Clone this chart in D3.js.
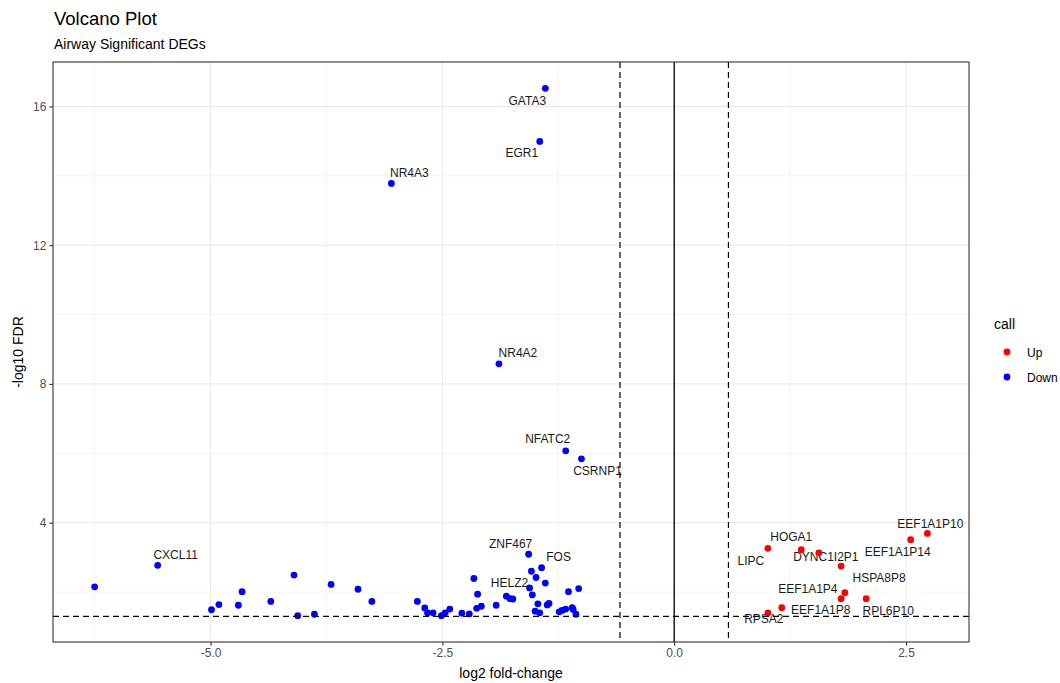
<!DOCTYPE html>
<html>
<head>
<meta charset="utf-8">
<script src="https://cdn.jsdelivr.net/npm/d3@7"></script>
<style>
  body { margin: 0; background: #fff; }
  svg { display: block; }
  text { font-family: "Liberation Sans", Arial, Helvetica, sans-serif; }
</style>
</head>
<body>
<svg id="chart" width="1060" height="683"></svg>
<script>
// ---- Data: significant DEGs (log2 fold-change vs -log10 FDR) ----
// Up-regulated genes ("" = not labelled)
const upGene = ["EEF1A1P10", "EEF1A1P14", "LIPC", "HOGA1", "DYNC1I2P1", "HSPA8P8",
                "EEF1A1P4", "RPL6P10", "EEF1A1P8", "RPSA2", ""];
const upLog2FC = [2.73, 2.55, 1.01, 1.37, 1.56, 1.80, 1.84, 2.07, 1.16, 1.01, 1.80];
const upNegLog10FDR = [3.69, 3.51, 3.26, 3.22, 3.13, 2.75, 1.98, 1.81, 1.55, 1.40, 1.81];

// Down-regulated genes ("" = not labelled)
const downGene = ["GATA3", "EGR1", "NR4A3", "NR4A2", "NFATC2", "CSRNP1", "ZNF467", "FOS",
                  "CXCL11", "HELZ2",
                  "", "", "", "", "", "", "", "", "", "", "", "", "", "", "", "", "", "", "", "",
                  "", "", "", "", "", "", "", "", "", "", "", "", "", "", "", "", "", "", "", "",
                  "", "", "", "", "", ""];
const downLog2FC = [-1.39, -1.45, -3.05, -1.89, -1.17, -1.00, -1.57, -1.43, -5.57, -1.56,
                    -6.25, -4.99, -4.91, -4.70, -4.66, -4.35, -4.10, -4.06, -3.88, -3.70,
                    -3.41, -3.26, -2.77, -2.69, -2.66, -2.60, -2.51, -2.47, -2.42, -2.29,
                    -2.21, -2.16, -2.12, -2.13, -2.08, -1.92, -1.81, -1.77, -1.74, -1.54,
                    -1.49, -1.39, -1.53, -1.47, -1.50, -1.45, -1.37, -1.35, -1.24, -1.21,
                    -1.17, -1.14, -1.10, -1.09, -1.06, -1.03];
const downNegLog10FDR = [16.52, 14.99, 13.78, 8.58, 6.07, 5.84, 3.09, 2.70, 2.77, 2.12,
                         2.15, 1.49, 1.64, 1.62, 2.01, 1.73, 2.49, 1.32, 1.36, 2.22,
                         2.08, 1.73, 1.73, 1.54, 1.40, 1.40, 1.32, 1.40, 1.51, 1.39,
                         1.37, 2.39, 1.94, 1.53, 1.59, 1.62, 1.88, 1.81, 1.80, 2.60,
                         2.42, 2.26, 1.92, 1.66, 1.45, 1.40, 1.63, 1.67, 1.43, 1.47,
                         1.51, 2.01, 1.55, 1.50, 1.36, 2.10];

// Significance thresholds
const fdrCutoff = 0.05;          // horizontal line at -log10(0.05)
const foldCutoff = 1.5;          // vertical lines at +/- log2(1.5)

// Legend entries
const callLevels = ["Up", "Down"];
const callColors = ["red", "blue"];

// Tick values
const xTicks = [-5.0, -2.5, 0.0, 2.5];
const xMinor = [-6.25, -3.75, -1.25, 1.25];
const yTicks = [4, 8, 12, 16];
const yMinor = [2, 6, 10, 14];

// ---- Layout ----
// Label placement (pixel offset of label centre from its point)
const labelOffset = {
  GATA3: [-18, 12], EGR1: [-18, 11], NR4A3: [18, -11], NR4A2: [19, -11],
  NFATC2: [-18, -12], CSRNP1: [16, 12], ZNF467: [-18, -10], FOS: [17, -11],
  HELZ2: [-20, -5], CXCL11: [18, -11],
  LIPC: [-17, 12], HOGA1: [-10, -13], DYNC1I2P1: [7, 4], HSPA8P8: [38, 12],
  EEF1A1P4: [-37, -4], EEF1A1P8: [39, 2], RPL6P10: [22, 12], RPSA2: [-4, 6],
  EEF1A1P14: [-13, 12], EEF1A1P10: [3, -10]
};

const panel = { left: 53, right: 969, top: 62, bottom: 642 };

const points = [];
upGene.forEach((g, i) => points.push({ gene: g, lfc: upLog2FC[i], y: upNegLog10FDR[i], call: "Up" }));
downGene.forEach((g, i) => points.push({ gene: g, lfc: downLog2FC[i], y: downNegLog10FDR[i], call: "Down" }));

// ggplot-style 5% expansion of the data range
function expand(ext) { const d = (ext[1] - ext[0]) * 0.05; return [ext[0] - d, ext[1] + d]; }
const x = d3.scaleLinear().domain(expand(d3.extent(points, d => d.lfc))).range([panel.left, panel.right]);
const y = d3.scaleLinear().domain(expand(d3.extent(points, d => d.y))).range([panel.bottom, panel.top]);
const color = d3.scaleOrdinal().domain(callLevels).range(callColors);

const svg = d3.select("#chart");

// Title and subtitle
svg.append("text").attr("x", 54).attr("y", 25).attr("font-size", 18.5).attr("fill", "#000").text("Volcano Plot");
svg.append("text").attr("x", 54).attr("y", 49).attr("font-size", 14).attr("fill", "#000").text("Airway Significant DEGs");

// Grid (minor then major)
const grid = svg.append("g");
grid.selectAll(".vminor").data(xMinor).join("line")
  .attr("x1", d => x(d)).attr("x2", d => x(d)).attr("y1", panel.top).attr("y2", panel.bottom)
  .attr("stroke", "#ebebeb").attr("stroke-width", 0.55);
grid.selectAll(".hminor").data(yMinor).join("line")
  .attr("y1", d => y(d)).attr("y2", d => y(d)).attr("x1", panel.left).attr("x2", panel.right)
  .attr("stroke", "#ebebeb").attr("stroke-width", 0.55);
grid.selectAll(".vmajor").data(xTicks).join("line")
  .attr("x1", d => x(d)).attr("x2", d => x(d)).attr("y1", panel.top).attr("y2", panel.bottom)
  .attr("stroke", "#ebebeb").attr("stroke-width", 1.1);
grid.selectAll(".hmajor").data(yTicks).join("line")
  .attr("y1", d => y(d)).attr("y2", d => y(d)).attr("x1", panel.left).attr("x2", panel.right)
  .attr("stroke", "#ebebeb").attr("stroke-width", 1.1);

// Gene labels
const labelled = points.filter(d => d.gene !== "");
svg.append("g").selectAll("text").data(labelled).join("text")
  .attr("x", d => x(d.lfc) + labelOffset[d.gene][0])
  .attr("y", d => y(d.y) + labelOffset[d.gene][1] + 4.2)
  .attr("text-anchor", "middle").attr("font-size", 12).attr("fill", "#1a1a1a")
  .text(d => d.gene);

// Points
svg.append("g").selectAll("circle").data(points).join("circle")
  .attr("cx", d => x(d.lfc)).attr("cy", d => y(d.y)).attr("r", 3.4)
  .attr("fill", d => color(d.call));

// Reference lines
const lines = svg.append("g");
lines.append("line")
  .attr("x1", x(0)).attr("x2", x(0)).attr("y1", panel.top).attr("y2", panel.bottom)
  .attr("stroke", "#000").attr("stroke-width", 1.3);
lines.selectAll(".fc").data([-Math.log2(foldCutoff), Math.log2(foldCutoff)]).join("line")
  .attr("x1", d => x(d)).attr("x2", d => x(d)).attr("y1", panel.top).attr("y2", panel.bottom)
  .attr("stroke", "#000").attr("stroke-width", 1.2).attr("stroke-dasharray", "6,4");
lines.append("line")
  .attr("x1", panel.left).attr("x2", panel.right).attr("y1", y(-Math.log10(fdrCutoff))).attr("y2", y(-Math.log10(fdrCutoff)))
  .attr("stroke", "#000").attr("stroke-width", 1.2).attr("stroke-dasharray", "6,4");

// Panel border
svg.append("rect").attr("x", panel.left).attr("y", panel.top)
  .attr("width", panel.right - panel.left).attr("height", panel.bottom - panel.top)
  .attr("fill", "none").attr("stroke", "#333").attr("stroke-width", 1.1);

// Axes
const xAxis = svg.append("g").attr("transform", `translate(0,${panel.bottom})`)
  .call(d3.axisBottom(x).tickValues(xTicks).tickFormat(d3.format(".1f")).tickSize(3.7).tickPadding(3));
const yAxis = svg.append("g").attr("transform", `translate(${panel.left},0)`)
  .call(d3.axisLeft(y).tickValues(yTicks).tickFormat(d3.format("d")).tickSize(3.7).tickPadding(3));
[xAxis, yAxis].forEach(a => {
  a.select(".domain").remove();
  a.selectAll(".tick line").attr("stroke", "#333").attr("stroke-width", 1.1);
  a.selectAll(".tick text").attr("fill", "#4d4d4d").attr("font-size", 12)
    .attr("font-family", "'Liberation Sans', Arial, sans-serif");
});
xAxis.selectAll(".tick text").text(d => d === 0 ? "0.0" : d3.format(".1f")(d).replace("−", "-"));

// Axis titles
svg.append("text").attr("x", (panel.left + panel.right) / 2).attr("y", 678)
  .attr("text-anchor", "middle").attr("font-size", 14).attr("fill", "#000").text("log2 fold-change");
svg.append("text").attr("transform", `translate(23,${(panel.top + panel.bottom) / 2}) rotate(-90)`)
  .attr("text-anchor", "middle").attr("font-size", 14).attr("fill", "#000").text("-log10 FDR");

// Legend
const legend = svg.append("g");
legend.append("text").attr("x", 994).attr("y", 329).attr("font-size", 14).attr("fill", "#000").text("call");
const items = legend.selectAll(".item").data(callLevels).join("g")
  .attr("transform", (d, i) => `translate(0,${352 + i * 25})`);
items.append("circle").attr("cx", 1007).attr("cy", 0).attr("r", 3.4).attr("fill", d => color(d));
items.append("text").attr("x", 1027).attr("y", 4.5).attr("font-size", 12).attr("fill", "#000").text(d => d);
</script>
</body>
</html>
